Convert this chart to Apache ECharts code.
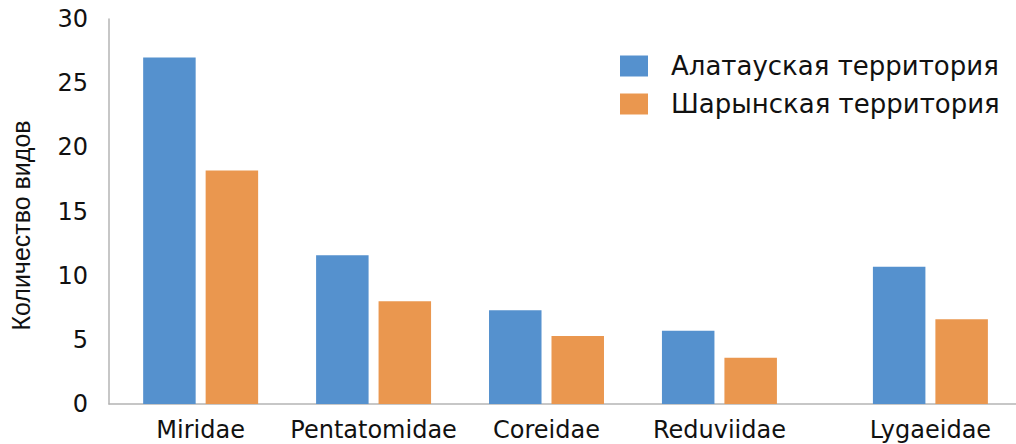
<!DOCTYPE html>
<html>
<head>
<meta charset="utf-8">
<title>Количество видов</title>
<script src="https://cdn.jsdelivr.net/npm/echarts@6/dist/echarts.min.js"></script>
<style>
  html, body { margin: 0; padding: 0; background: #fff; }
  #chart { width: 1016px; height: 444px; }
</style>
</head>
<body>
<div id="chart"></div>
<script>
// Families of true bugs and species counts per territory
const families = ['Miridae', 'Pentatomidae', 'Coreidae', 'Reduviidae', 'Lygaeidae'];
const alatauValues = [27, 11.6, 7.3, 5.7, 10.7];
const sharynValues = [18.2, 8.0, 5.3, 3.6, 6.6];
const seriesNames = ['Алатауская территория', 'Шарынская территория'];
const yTicks = { min: 0, max: 30, step: 5 };
const yAxisTitle = 'Количество видов';

// Layout: where each family group sits along the horizontal axis (last group set apart)
const groupSlots = [0, 1, 2, 3, 4.22];
const WIDE = '"DejaVu Sans", Verdana, sans-serif';
const SANS = '"Liberation Sans", Arial, Helvetica, sans-serif';

const toPoints = vals => vals.map((v, i) => [groupSlots[i], v]);

const chart = echarts.init(document.getElementById('chart'), null, { renderer: 'svg' });
chart.setOption({
  animation: false,
  backgroundColor: '#ffffff',
  grid: { left: 105, right: 0, top: 19, bottom: 40, containLabel: false },
  legend: {
    orient: 'vertical',
    left: 620,
    top: 53,
    padding: 0,
    itemWidth: 28,
    itemHeight: 21,
    itemGap: 12,
    icon: 'rect',
    data: seriesNames,
    textStyle: { fontFamily: WIDE, fontSize: 26, color: '#111', padding: [0, 0, 0, 18] }
  },
  xAxis: {
    type: 'value',
    min: -0.53,
    max: 4.715,
    axisLine: { show: true, onZero: false, lineStyle: { color: '#b4b4b4', width: 1.5 } },
    axisTick: { show: false },
    splitLine: { show: false },
    axisLabel: {
      customValues: groupSlots,
      formatter: v => {
        const i = groupSlots.findIndex(s => Math.abs(s - v) < 1e-6);
        return i >= 0 ? families[i] : '';
      },
      fontFamily: WIDE,
      fontSize: 24,
      color: '#111',
      margin: 14
    }
  },
  yAxis: {
    type: 'value',
    min: yTicks.min,
    max: yTicks.max,
    interval: yTicks.step,
    name: yAxisTitle,
    nameLocation: 'middle',
    nameRotate: 90,
    nameGap: 76,
    nameTextStyle: { fontFamily: SANS, fontSize: 25, color: '#111', padding: [0, 28, 0, 0] },
    axisLine: { show: true, onZero: false, lineStyle: { color: '#b4b4b4', width: 1.5 } },
    axisTick: { show: false },
    splitLine: { show: false },
    axisLabel: { fontFamily: WIDE, fontSize: 24, color: '#111', margin: 21 }
  },
  series: [
    {
      name: seriesNames[0],
      type: 'bar',
      data: toPoints(alatauValues),
      barWidth: 52.5,
      barGap: '19%',
      itemStyle: { color: '#5591CE' }
    },
    {
      name: seriesNames[1],
      type: 'bar',
      data: toPoints(sharynValues),
      barWidth: 52.5,
      barGap: '19%',
      itemStyle: { color: '#EA974F' }
    }
  ]
});
</script>
</body>
</html>
